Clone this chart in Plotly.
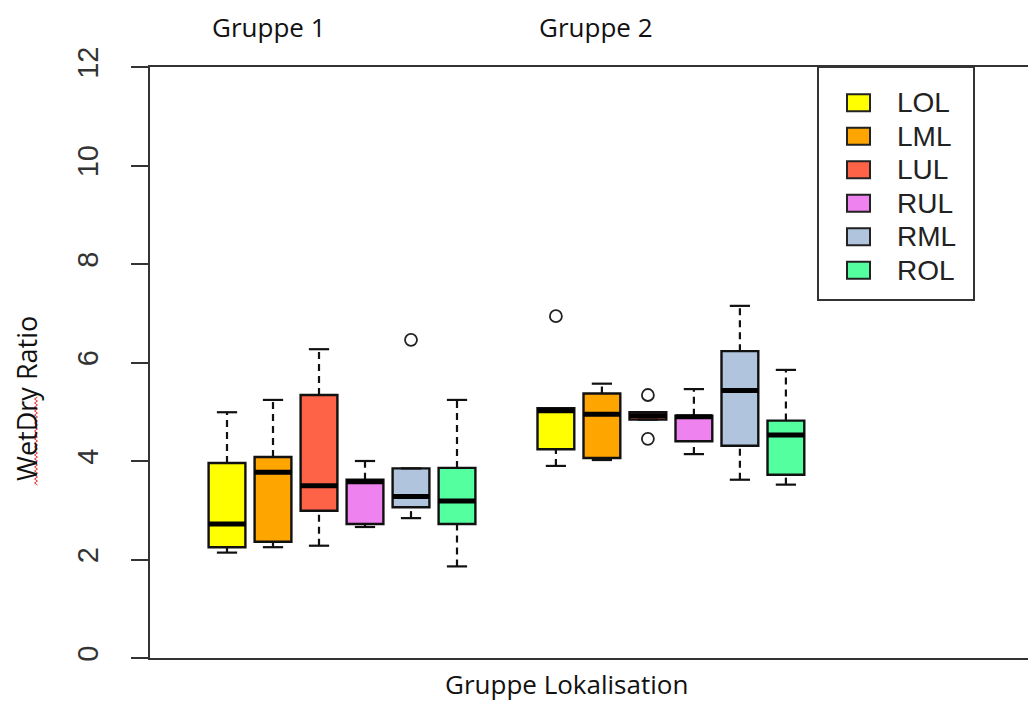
import plotly.graph_objects as go

# Lung locations and their box colours
locations = ["LOL", "LML", "LUL", "RUL", "RML", "ROL"]
colors = ["#FFFF00", "#FFA500", "#FF6347", "#EE82EE", "#B0C4DE", "#54FF9F"]
group_labels = ["Gruppe 1", "Gruppe 2"]

# Box statistics, group 1 (lower whisker, Q1, median, Q3, upper whisker, outliers)
g1_low = [2.14, 2.25, 2.28, 2.66, 2.84, 1.86]
g1_q1 = [2.25, 2.36, 2.99, 2.72, 3.06, 2.72]
g1_med = [2.72, 3.77, 3.50, 3.58, 3.28, 3.19]
g1_q3 = [3.96, 4.08, 5.34, 3.62, 3.85, 3.86]
g1_high = [4.99, 5.24, 6.27, 4.00, 3.85, 5.24]
g1_out = [[], [], [], [], [6.46], []]

# Box statistics, group 2
g2_low = [3.90, 4.02, 4.84, 4.14, 3.62, 3.52]
g2_q1 = [4.24, 4.06, 4.84, 4.40, 4.31, 3.72]
g2_med = [5.02, 4.95, 4.92, 4.90, 5.43, 4.53]
g2_q3 = [5.07, 5.37, 4.99, 4.92, 6.23, 4.82]
g2_high = [5.07, 5.57, 4.99, 5.46, 7.15, 5.85]
g2_out = [[6.94], [], [5.34, 4.45], [], [], []]

y_ticks = [0, 2, 4, 6, 8, 10, 12]

# ---------------------------------------------------------------------------
W, H = 1028, 704
ML, MR, MT, MB = 150, 0, 67, 46
PW, PH = W - ML - MR, H - MT - MB


def px(xp):
    return (xp - ML) / PW


def py(yp):
    return (H - MB - yp) / PH


group_start = [1.0, 8.15]
BOX_W = 0.8
STAPLE = 0.22

stats = [
    (g1_low, g1_q1, g1_med, g1_q3, g1_high, g1_out),
    (g2_low, g2_q1, g2_med, g2_q3, g2_high, g2_out),
]

fig = go.Figure()

wx, wy, sx, sy, mx, my, ox, oy = [], [], [], [], [], [], [], []
for g, (lo, q1, med, q3, hi, out) in enumerate(stats):
    for i in range(len(locations)):
        x = group_start[g] + i
        wx += [x, x, None, x, x, None]
        wy += [q3[i], hi[i], None, lo[i], q1[i], None]
        sx += [x - STAPLE, x + STAPLE, None, x - STAPLE, x + STAPLE, None]
        sy += [hi[i], hi[i], None, lo[i], lo[i], None]
        mx += [x - BOX_W / 2, x + BOX_W / 2, None]
        my += [med[i], med[i], None]
        for v in out[i]:
            ox.append(x)
            oy.append(v)

# dashed whiskers
fig.add_trace(go.Scatter(x=wx, y=wy, mode="lines", showlegend=False, hoverinfo="skip",
                         line=dict(color="#111", width=2.2, dash="7px,5px")))
# staples
fig.add_trace(go.Scatter(x=sx, y=sy, mode="lines", showlegend=False, hoverinfo="skip",
                         line=dict(color="#111", width=2.2)))

# boxes
for i, loc in enumerate(locations):
    xs = [group_start[0] + i, group_start[1] + i]
    q1s = [g1_q1[i], g2_q1[i]]
    q3s = [g1_q3[i], g2_q3[i]]
    fig.add_trace(go.Box(
        name=loc, x=xs, q1=q1s, median=[g1_med[i], g2_med[i]], q3=q3s,
        lowerfence=q1s, upperfence=q3s, width=BOX_W, whiskerwidth=0,
        fillcolor=colors[i], line=dict(color="#111", width=2.4),
        boxpoints=False, showlegend=False, hoverinfo="skip",
    ))

# thick medians
fig.add_trace(go.Scatter(x=mx, y=my, mode="lines", showlegend=False, hoverinfo="skip",
                         line=dict(color="#000", width=5)))
# outliers
fig.add_trace(go.Scatter(x=ox, y=oy, mode="markers", showlegend=False, hoverinfo="skip",
                         marker=dict(symbol="circle-open", size=12, color="#222",
                                     line=dict(width=1.8, color="#222"))))

x_lo = 1 - (227 - ML) / 46
x_hi = x_lo + PW / 46

fig.update_layout(
    width=W, height=H,
    margin=dict(l=ML, r=MR, t=MT, b=MB),
    paper_bgcolor="white", plot_bgcolor="white",
    showlegend=False,
    xaxis=dict(range=[x_lo, x_hi], showline=True, mirror=True, linecolor="#333",
               linewidth=2, showgrid=False, zeroline=False, showticklabels=False,
               ticks=""),
    yaxis=dict(range=[0, 12], tickvals=y_ticks, ticks="outside", ticklen=17,
               tickwidth=2, tickcolor="#333", showline=True, linewidth=2,
               linecolor="#333", showgrid=False, zeroline=False, tickangle=-90,
               ticklabelstandoff=21,
               tickfont=dict(family="Liberation Sans", size=29, color="#333")),
)

label_font = dict(family="Open Sans", size=26, color="#111")

# group captions and axis titles
for text, xc in zip(group_labels, [269, 596]):
    fig.add_annotation(text=text, xref="paper", yref="paper", x=px(xc), y=py(27),
                       xanchor="center", yanchor="middle", showarrow=False, font=label_font)
fig.add_annotation(text="Gruppe Lokalisation", xref="paper", yref="paper",
                   x=px(566), y=py(684), xanchor="center", yanchor="middle",
                   showarrow=False, font=label_font)
fig.add_annotation(text="WetDry Ratio", xref="paper", yref="paper", x=px(26), y=py(399),
                   xanchor="center", yanchor="middle", textangle=-90,
                   showarrow=False, font=dict(family="Open Sans", size=27, color="#111"))

# wavy spell-check underline beside "WetDry"
path = []
yy, k = 397, 0
while yy <= 485:
    xx = 36 + (1.5 if k % 2 == 0 else -1.5)
    path.append(("M" if k == 0 else "L") + f"{px(xx):.5f},{py(yy):.5f}")
    yy += 2
    k += 1
fig.add_shape(type="path", path=" ".join(path), xref="paper", yref="paper",
              line=dict(color="#E03030", width=1))

# legend box
fig.add_shape(type="rect", xref="paper", yref="paper", x0=px(818), x1=px(974),
              y0=py(300), y1=py(67), line=dict(color="#333", width=2), fillcolor="white",
              layer="above")
for i, loc in enumerate(locations):
    yc = 102.7 + 33.5 * i
    fig.add_shape(type="rect", xref="paper", yref="paper", x0=px(847), x1=px(870),
                  y0=py(yc + 8.5), y1=py(yc - 8.5), line=dict(color="#222", width=2),
                  fillcolor=colors[i], layer="above")
    fig.add_annotation(text=loc, xref="paper", yref="paper", x=px(895), y=py(yc),
                       xanchor="left", yanchor="middle", showarrow=False,
                       font=dict(family="Liberation Sans", size=28, color="#222"))

fig.write_html("out.html")
